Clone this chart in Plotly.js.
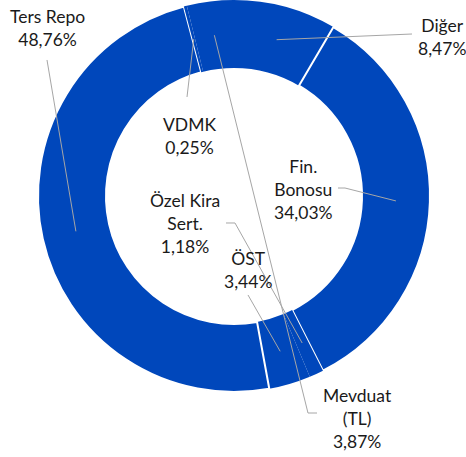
<!DOCTYPE html>
<html>
<head>
<meta charset="utf-8">
<script src="https://cdn.plot.ly/plotly-3.0.1.min.js"></script>
<style>html,body{margin:0;padding:0;background:#fff;}#chart{width:466px;height:457px;}</style>
</head>
<body>
<div id="chart"></div>
<script>
// Data (clockwise from 12 o'clock)
const categories = ["Diğer", "Fin. Bonosu", "Özel Kira Sert.", "ÖST", "Ters Repo", "VDMK", "Mevduat (TL)"];
const displayLabels = ["Diğer", "Fin.<br>Bonosu", "Özel Kira<br>Sert.", "ÖST", "Ters Repo", "VDMK", "Mevduat<br>(TL)"];
const shares = [8.47, 34.03, 1.18, 3.44, 48.76, 0.25, 3.87];

// Layout constants (pixels)
const W = 466, H = 457;
const CX = 234, CY = 196, R_OUT = 196, R_IN = 128;
const labelPos = [[442, 36.5], [303, 190], [185, 224], [248, 269.5], [47, 28.5], [189, 136.5], [357, 418]];
const leaderStart = [
  [[412, 34]],
  [[338, 188], [345, 188]],
  [[226, 223], [235, 223]],
  [[248, 295]],
  [[47, 60]],
  [[187, 97]],
  [[317, 413], [308, 413]]
];
const borderW = [0, 2, 0, 0, 2, 0, 0];

const px = x => x / W, py = y => 1 - y / H;
const total = shares.reduce((a, b) => a + b, 0);
let cum = 0;
const anchors = shares.map(v => {
  const mid = (cum + v / 2) / total * 2 * Math.PI;
  cum += v;
  const r = (R_OUT + R_IN) / 2;
  return [CX + r * Math.sin(mid), CY - r * Math.cos(mid)];
});

const fmt = v => v.toFixed(2).replace('.', ',') + '%';

const annotations = categories.map((c, i) => ({
  x: px(labelPos[i][0]), y: py(labelPos[i][1]), xref: 'paper', yref: 'paper',
  xanchor: 'center', yanchor: 'middle', align: 'center', showarrow: false,
  text: displayLabels[i] + '<br>' + fmt(shares[i]),
  font: {family: 'Lato, "Open Sans", sans-serif', size: 17.5, color: '#1a1a1a'}
}));

const shapes = categories.map((c, i) => {
  const pts = leaderStart[i].concat([anchors[i]]);
  const path = pts.map((p, k) => (k ? 'L' : 'M') + px(p[0]).toFixed(5) + ',' + py(p[1]).toFixed(5)).join(' ');
  return {type: 'path', xref: 'paper', yref: 'paper', path: path, line: {color: '#A6A6A6', width: 1}, layer: 'above'};
});

const trace = {
  type: 'pie', labels: categories, values: shares, sort: false, direction: 'clockwise', rotation: 0,
  hole: R_IN / R_OUT, textinfo: 'none', hoverinfo: 'none', showlegend: false,
  marker: {colors: categories.map(() => '#0047BB'), line: {color: '#ffffff', width: borderW}},
  domain: {x: [(CX - R_OUT) / W, (CX + R_OUT) / W], y: [(H - CY - R_OUT) / H, (H - CY + R_OUT) / H]}
};

Plotly.newPlot('chart', [trace], {
  width: W, height: H, margin: {l: 0, r: 0, t: 0, b: 0},
  paper_bgcolor: '#ffffff', plot_bgcolor: '#ffffff',
  annotations: annotations, shapes: shapes
}, {displayModeBar: false, staticPlot: true});
</script>
</body>
</html>
